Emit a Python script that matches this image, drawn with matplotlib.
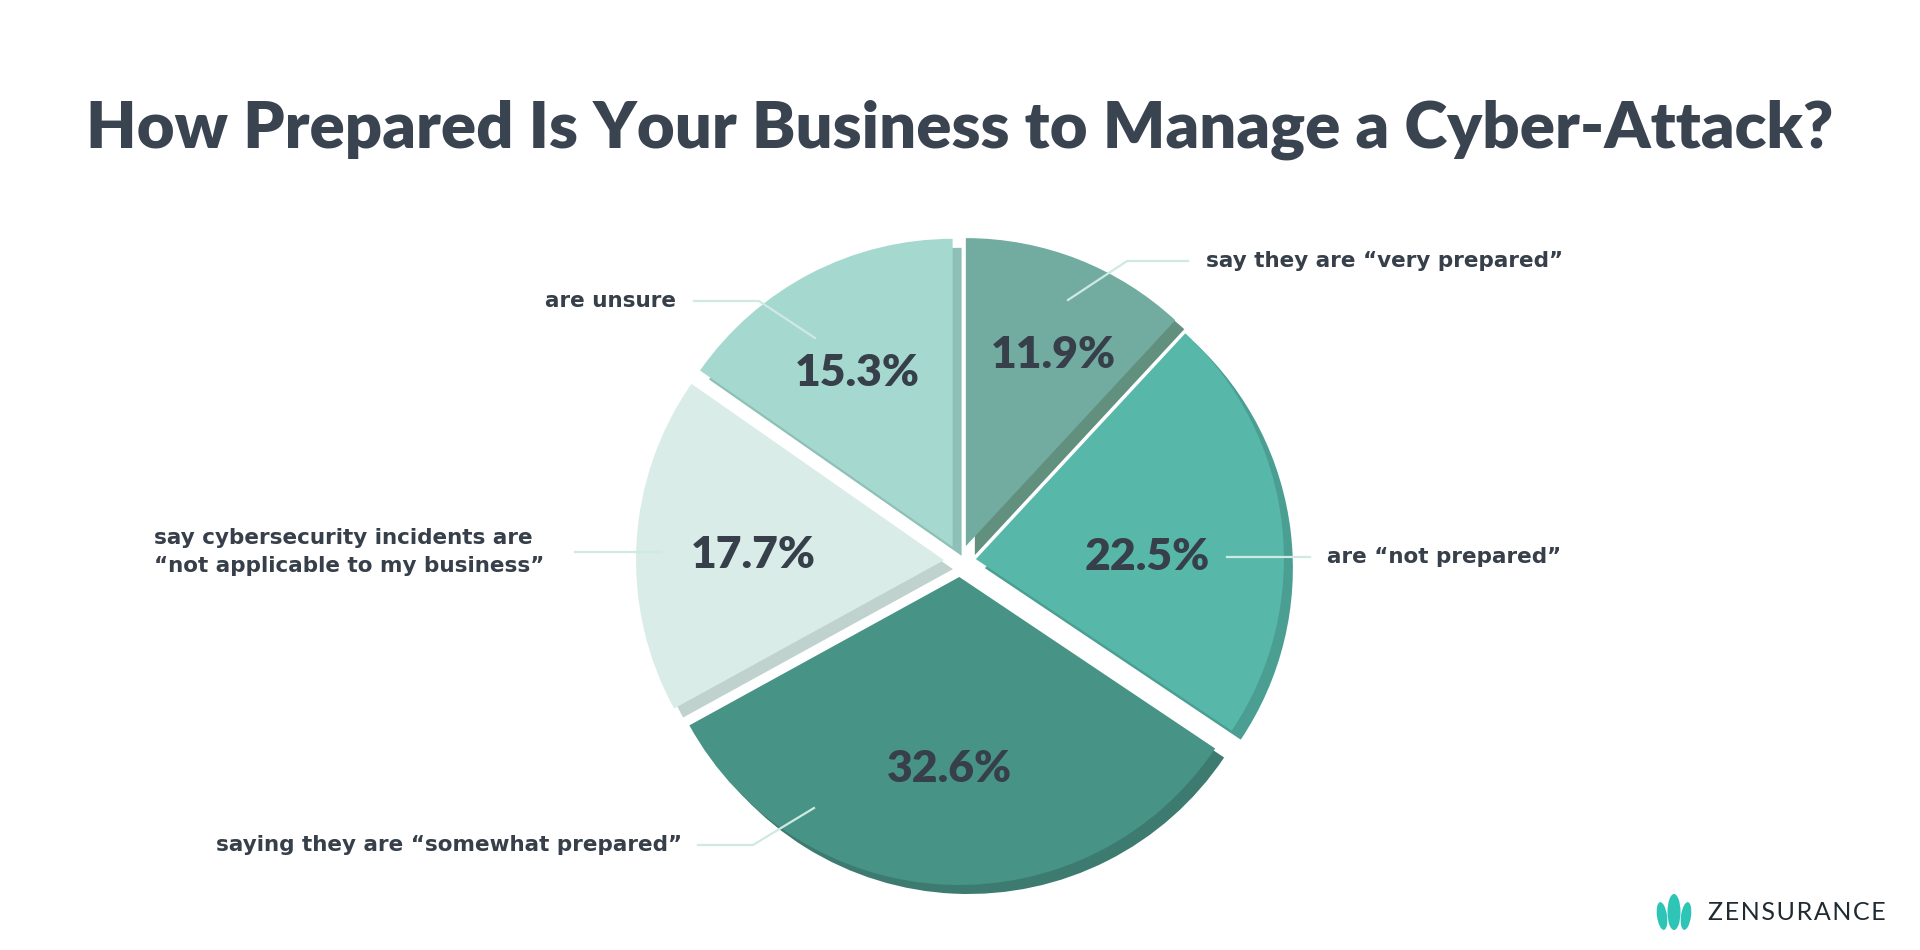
import matplotlib.pyplot as plt
from matplotlib.patches import Wedge, Ellipse

# data
categories = ['say they are \u201cvery prepared\u201d', 'are \u201cnot prepared\u201d',
              'saying they are \u201csomewhat prepared\u201d',
              'say cybersecurity incidents are\n\u201cnot applicable to my business\u201d',
              'are unsure']
shares = [11.9, 22.5, 32.6, 17.7, 15.3]

colors = ['#72ACA0', '#57B8AA', '#479386', '#D9ECE7', '#A5D8CF']
shade = ['#62907F', '#4A9F92', '#3D7A6F', '#BFD2CD', '#8EC0B7']
dark = '#363F4A'
line_c = '#CFE9E3'

fig = plt.figure(figsize=(19.2, 9.5), dpi=100)
ax = fig.add_axes([0, 0, 1, 1])

cx, cy, R = 960, 389, 308
# explode is in data units (pixels here)
wedges, _, autotexts = ax.pie(
    shares, colors=colors, startangle=90, counterclock=False,
    explode=[16] * 5, center=(cx, cy), radius=R,
    autopct='%1.1f%%', pctdistance=0.64, frame=True,
    wedgeprops=dict(linewidth=0, zorder=3),
    textprops=dict(fontsize=32, fontweight='heavy', color=dark, family='Lato'))

# percent labels sit where the designer put them
pct_pos = [(1053, 595), (1147, 393), (950, 181), (753, 395), (857, 577)]
for t, p in zip(autotexts, pct_pos):
    t.set_position(p)
    t.set_zorder(5)

ax.set_xlim(0, 1920)
ax.set_ylim(0, 950)
ax.set_aspect('equal')
ax.axis('off')

# 3d-ish side strips
for w, c in zip(wedges, shade):
    s = Wedge((w.center[0] + 9, w.center[1] - 9), w.r, w.theta1, w.theta2,
              color=c, lw=0, zorder=2)
    ax.add_patch(s)

# labels with leader lines
lab_kw = dict(fontsize=15.5, fontweight='bold', color=dark, family='DejaVu Sans', zorder=6)
ax.plot([1068, 1127, 1188], [650, 689, 689], color=line_c, lw=1.6, zorder=4)
ax.text(1206, 689, categories[0], ha='left', va='center', **lab_kw)

ax.plot([1227, 1310], [393, 393], color=line_c, lw=1.6, zorder=4)
ax.text(1327, 393, categories[1], ha='left', va='center', **lab_kw)

ax.plot([814, 753, 698], [142, 105, 105], color=line_c, lw=1.6, zorder=4)
ax.text(682, 105, categories[2], ha='right', va='center', **lab_kw)

ax.plot([575, 661], [398, 398], color=line_c, lw=1.6, zorder=4)
ax.text(544, 398, categories[3], ha='right', va='center', multialignment='left',
        linespacing=1.5, **lab_kw)

ax.plot([815, 759, 694], [612, 649, 649], color=line_c, lw=1.6, zorder=4)
ax.text(676, 649, categories[4], ha='right', va='center', **lab_kw)

# title
ax.text(960, 820, 'How Prepared Is Your Business to Manage a Cyber-Attack?',
        ha='center', va='center', fontsize=47, fontweight='heavy', color='#3A4450',
        family='Lato')

# logo
logo_c = '#2EC4B6'
ax.add_patch(Ellipse((1674, 38), 13, 36, color=logo_c, lw=0))
ax.add_patch(Ellipse((1662, 34), 10, 28, angle=8, color=logo_c, lw=0))
ax.add_patch(Ellipse((1686, 34), 10, 28, angle=-8, color=logo_c, lw=0))
ax.text(1708, 38, 'Z E N S U R A N C E'.replace(' ', '\u200a'), ha='left', va='center',
        fontsize=18, color='#1F2A33', family='Lato')

fig.savefig('out.png', dpi=100)
